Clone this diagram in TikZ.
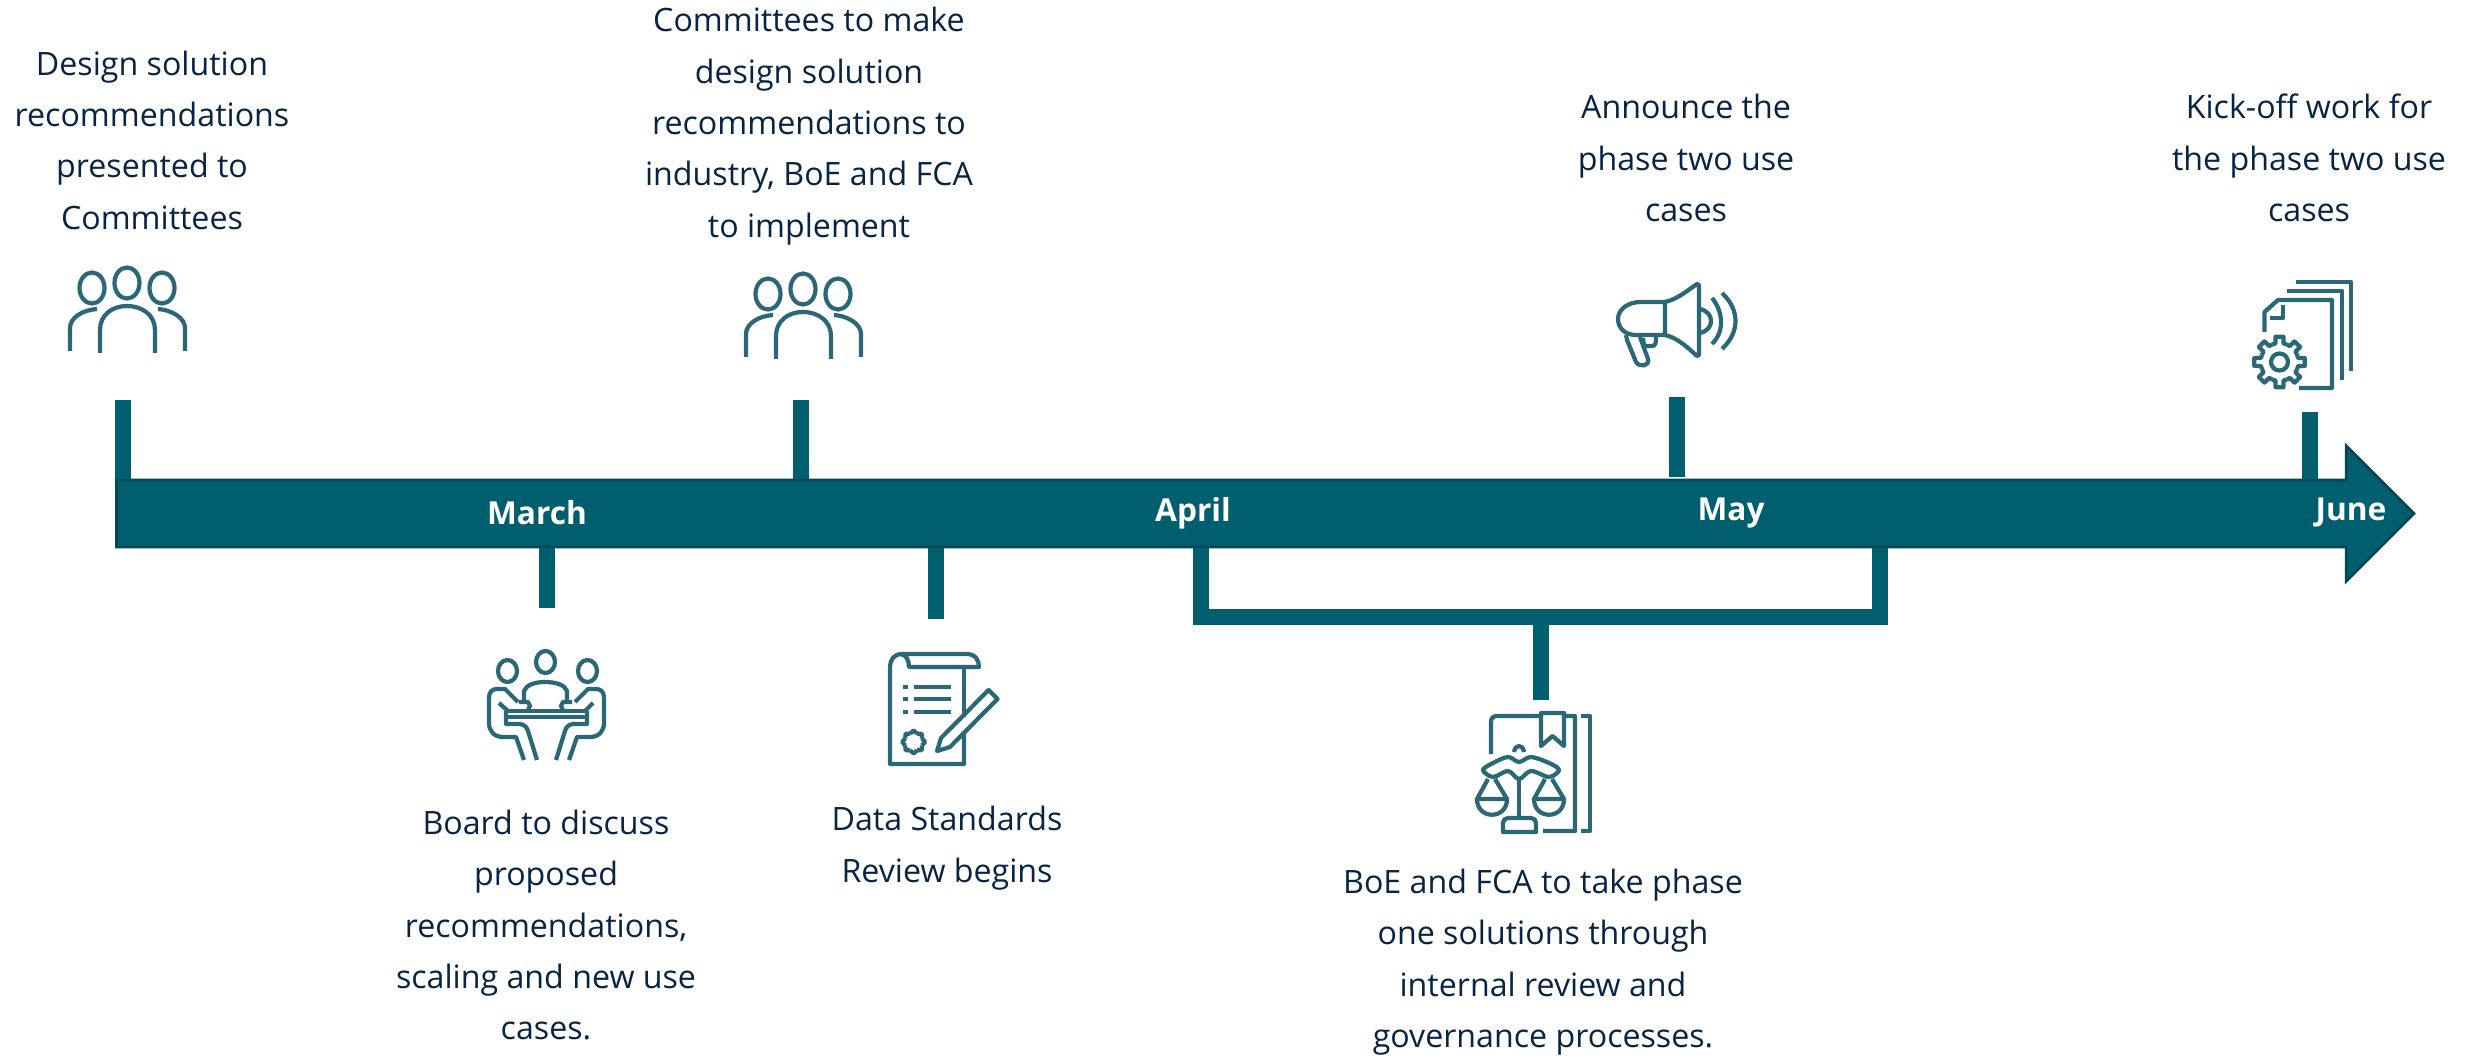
\documentclass[tikz,border=0pt]{standalone}
\usepackage{fontspec}
\setmainfont{Open Sans}
\usetikzlibrary{shapes.arrows}

\definecolor{barcolor}{RGB}{0, 95, 110}
\definecolor{baredge}{RGB}{2, 72, 84}
\definecolor{iconcolor}{RGB}{42, 104, 117}
\definecolor{textcolor}{RGB}{8, 36, 68}

\tikzset{
    caption/.style={align=center, text=textcolor, inner sep=0pt, font=\fontsize{9.15}{14.6}\selectfont},
    month/.style={text=white, inner sep=0pt, font=\fontsize{9}{10}\selectfont\bfseries},
    tick/.style={draw=barcolor, line width=4.55pt, line join=miter},
    icon/.style={draw=iconcolor, line width=1.2pt, line join=round},
    people/.pic={
        \draw[icon] (92,288) ellipse (12.5 and 15.5);
        \draw[icon] (127,283) ellipse (12.5 and 15.5);
        \draw[icon] (162,288) ellipse (12.5 and 15.5);
        \draw[icon] (100,353) -- (100,330) .. controls (100,315) and (112,306) .. (127,306) .. controls (142,306) and (155,315) .. (155,330) -- (155,353);
        \draw[icon] (70,351) -- (70,328) .. controls (70,318) and (82,310) .. (97,309);
        \draw[icon] (185,351) -- (185,328) .. controls (185,318) and (172,310) .. (158,309);
    }
}

\begin{document}
\begin{tikzpicture}[x=0.01cm, y=-0.01cm]
    \useasboundingbox (0,0) rectangle (2476,1058);

    % timeline
    \node[single arrow, draw=baredge, fill=barcolor, line width=0.8pt, inner xsep=0pt, inner ysep=0.32cm, anchor=tail,
        minimum height=22.96cm, single arrow head extend=0.34cm] (timeline) at (115,513.5) {};

    \node[month] (march) at (537,513) {March};
    \node[month] (april) at (1193,513) {April};
    \node[month] (may) at (1731,513) {May};
    \node[month] (june) at (2351,513) {June};

    % ticks above the bar
    \coordinate (tickA) at (122.5,400);
    \coordinate (tickB) at (801,400);
    \coordinate (tickC) at (1676.5,397);
    \coordinate (tickD) at (2310,412);
    \draw[tick] (tickA) -- (tickA |- timeline.north);
    \draw[tick] (tickB) -- (tickB |- timeline.north);
    \draw[tick] (tickC) -- (1676.5,477);
    \draw[tick] (tickD) -- (tickD |- timeline.north);

    % ticks below the bar
    \coordinate (tickE) at (547,608);
    \coordinate (tickF) at (935.5,619);
    \draw[tick] (tickE) -- (tickE |- timeline.south);
    \draw[tick] (tickF) -- (tickF |- timeline.south);

    % bracket april to may
    \coordinate (brkL) at (1201,616.5);
    \coordinate (brkR) at (1880,616.5);
    \coordinate (brkM) at (1540.5,624);
    \coordinate (tickG) at (1540.5,700);
    \draw[tick] (brkL |- timeline.south) -- (brkL) -- (brkR) -- (brkR |- timeline.south);
    \draw[tick] (brkM) -- (tickG);

    % captions
    \node[caption] (capA) at (152,140) {Design solution\\recommendations\\presented to\\Committees};
    \node[caption] (capB) at (809,126) {Committees to make\\design solution\\recommendations to\\industry, BoE and FCA\\to implement};
    \node[caption] (capC) at (1686,158) {Announce the\\phase two use\\cases};
    \node[caption] (capD) at (2309,158) {Kick-off work for\\the phase two use\\cases};
    \node[caption] (capE) at (546,925) {Board to discuss\\proposed\\recommendations,\\scaling and new use\\cases.};
    \node[caption] (capF) at (947,848) {Data Standards\\Review begins};
    \node[caption] (capG) at (1543,962) {BoE and FCA to take phase\\one solutions through\\internal review and\\governance processes.};

    % committee icons
    \pic (pplA) at (0,0) {people};
    \pic (pplB) at (676,6) {people};

    % board meeting icon
    \draw[icon] (545.5,662) ellipse (9.5 and 11);
    \draw[icon] (507.5,671) ellipse (9.5 and 11);
    \draw[icon] (587.5,671) ellipse (9.5 and 11);
    \draw[icon] (524,700) -- (524,691) .. controls (526,685) and (535,682) .. (545,682) .. controls (556,682) and (565,685) .. (567,691) -- (567,700);
    \draw[icon] (519,702) -- (528,702) -- (530,706) -- (528,710);
    \draw[icon] (572,702) -- (563,702) -- (561,706) -- (563,710);
    \draw[icon] (506,711) -- (587,711);
    \draw[icon] (508,717) -- (585,717);
    \draw[icon] (506,711) -- (506,724) -- (519,724) .. controls (524,724) and (527,727) .. (528,731) -- (537,760);
    \draw[icon] (587,711) -- (587,724) -- (574,724) .. controls (569,724) and (566,727) .. (565,731) -- (556,760);
    \draw[icon] (524,760) -- (516,737) -- (503,737) .. controls (494,737) and (489,731) .. (489,723) -- (489,698) .. controls (489,692) and (492,689) .. (497,689) -- (505,689) -- (518,702);
    \draw[icon] (569,760) -- (577,737) -- (590,737) .. controls (599,737) and (604,731) .. (604,723) -- (604,698) .. controls (604,692) and (601,689) .. (596,689) -- (588,689) -- (575,702);
    \draw[icon] (499,703) -- (508,711);
    \draw[icon] (593,703) -- (585,711);

    % data standards icon
    \draw[icon] (964,717) -- (964,667);
    \draw[icon] (964,733) -- (964,764) -- (890,764) -- (890,668) .. controls (890,659) and (895,654) .. (901,654) -- (968,654) .. controls (975,654) and (979,660) .. (979,667) -- (909,667) .. controls (909,660) and (906,654) .. (900,654);
    \draw[icon, line width=1.4pt] (903,687) -- (908,687);
    \draw[icon, line width=1.4pt] (903,699) -- (908,699);
    \draw[icon, line width=1.4pt] (903,712) -- (908,712);
    \draw[icon, line width=1.4pt] (914,687) -- (951,687);
    \draw[icon, line width=1.4pt] (914,699) -- (951,699);
    \draw[icon, line width=1.4pt] (914,712) -- (951,712);
    \draw[icon] (937,751) -- (941,738) -- (988.6,690) -- (997.5,699) -- (950,747) -- cycle;
    \begin{scope}[shift={(913.6,742)}]
        \foreach \a in {0,45,...,315} {
            \draw[icon] ({\a-22.5}:9) -- (\a:11.5) -- ({\a+22.5}:9);
        }
    \end{scope}

    % megaphone icon
    \draw[icon] (1665,302) -- (1641,302) .. controls (1627,302) and (1618,310) .. (1618,319) .. controls (1618,328) and (1625,335) .. (1636,335) -- (1665,335) -- cycle;
    \draw[icon] (1665,302) .. controls (1678,299) and (1688,290) .. (1697,284) -- (1699,285) -- (1699,355) -- (1697,356) .. controls (1688,348) and (1678,338) .. (1665,335);
    \draw[icon] (1700,309) .. controls (1708,311) and (1711,316) .. (1711,321) .. controls (1711,326) and (1708,331) .. (1700,333);
    \draw[icon] (1712,298) .. controls (1722,310) and (1726,330) .. (1712,344);
    \draw[icon] (1722,293) .. controls (1740,310) and (1740,332) .. (1722,349);
    \draw[icon] (1626,335) -- (1627,340) -- (1636,362) .. controls (1640,368) and (1650,366) .. (1648,359) -- (1640,337);
    \draw[icon] (1643,338) -- (1644,346) -- (1652,346) .. controls (1656,346) and (1656,342) .. (1656,337);

    % document and gear icon
    \draw[icon] (2295.5,282) -- (2351,282) -- (2351,371);
    \draw[icon] (2287,291) -- (2342,291) -- (2342,380);
    \draw[icon] (2264.5,332) -- (2264.5,312) -- (2278,300) -- (2332,300) -- (2332,388) -- (2299,388);
    \draw[icon] (2283,305) -- (2283,318) -- (2270,318);
    \begin{scope}[shift={(2279.5,362)}]
        \foreach \a in {0,45,...,315} {
            \draw[icon] ({\a-22.5}:19) -- ({\a-12}:19) -- ({\a-9}:25.5) -- ({\a+9}:25.5) -- ({\a+12}:19) -- ({\a+22.5}:19);
        }
        \draw[icon] (0,0) circle (8.5);
    \end{scope}

    % scales and book icon
    \draw[icon] (1491,754) -- (1491,722) .. controls (1491,718) and (1493,716) .. (1497,716) -- (1575,716) -- (1575,831) -- (1543,831);
    \draw[icon] (1581,716) -- (1590,716) -- (1590,831) -- (1581,831);
    \draw[icon, fill=white] (1541,713) -- (1564,713) -- (1564,746) -- (1552.5,736) -- (1541,746) -- cycle;
    \draw[icon] (1514,752) .. controls (1515,744) and (1523,744) .. (1524,752);
    \draw[icon] plot[smooth cycle, tension=0.55] coordinates {(1483,770) (1493,763) (1508,757) (1519,762) (1531,757) (1549,763) (1559,770) (1549,777) (1531,771) (1519,779) (1508,771) (1493,777)};
    \draw[icon] (1519,780) -- (1519,818);
    \draw[icon] (1503,832) -- (1503,823) .. controls (1503,820) and (1505,818) .. (1508,818) -- (1531,818) .. controls (1534,818) and (1536,820) .. (1536,823) -- (1536,832) -- cycle;
    \draw[icon] (1488,779) -- (1477,799) -- (1507,799) -- (1495,779);
    \draw[icon] (1477,799) .. controls (1477,820) and (1507,820) .. (1507,799);
    \draw[icon] (1545,779) -- (1534,799) -- (1564,799) -- (1552,779);
    \draw[icon] (1534,799) .. controls (1534,820) and (1564,820) .. (1564,799);
\end{tikzpicture}
\end{document}
